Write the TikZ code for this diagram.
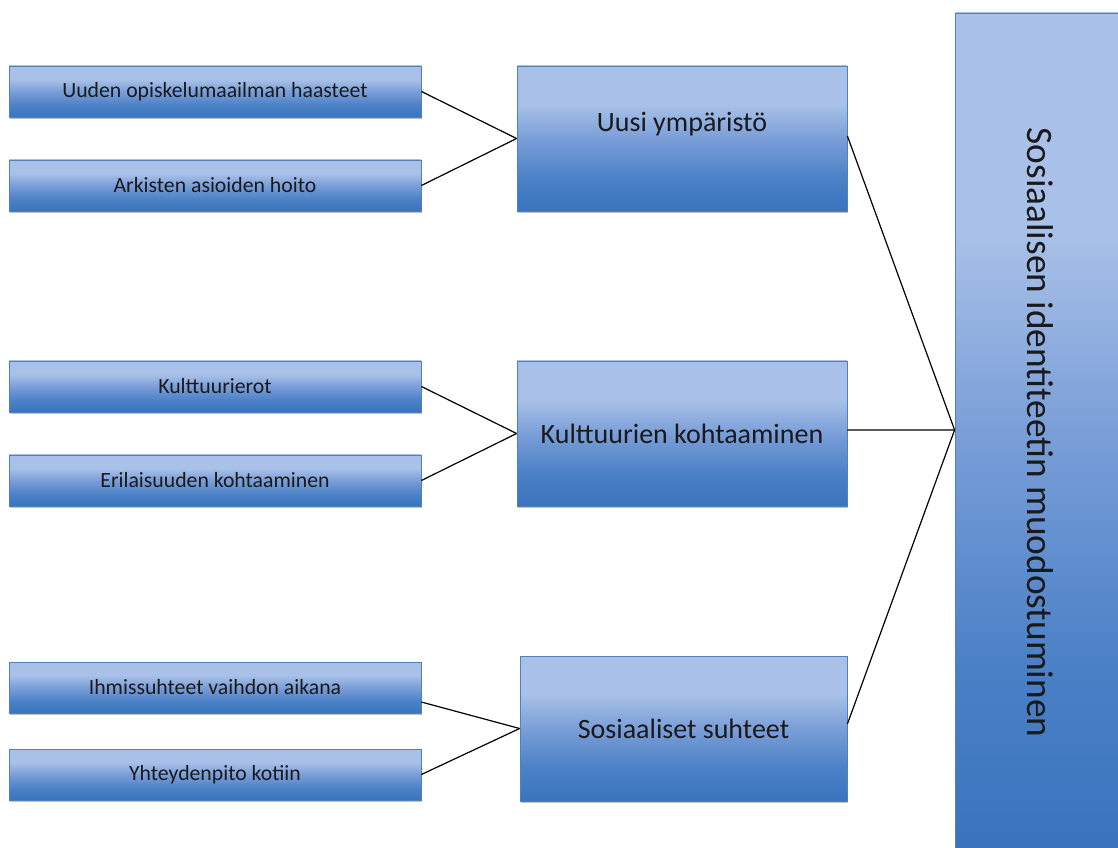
\documentclass[tikz,border=0pt]{standalone}
\usepackage{fontspec}
\setmainfont{Carlito}
\usetikzlibrary{shadows}
\definecolor{boxtop}{HTML}{A9C1E8}
\definecolor{boxmid}{HTML}{7A9ED8}
\definecolor{boxbot2}{HTML}{4A80C6}
\definecolor{boxbot}{HTML}{3A74BD}
\definecolor{boxline}{HTML}{4F81BD}
\definecolor{txt}{HTML}{1A1A1A}
\pgfdeclareverticalshading{officeblue}{100bp}{color(0bp)=(boxbot); color(25bp)=(boxbot); color(36bp)=(boxbot2); color(50bp)=(boxmid); color(62bp)=(boxtop); color(75bp)=(boxtop); color(100bp)=(boxtop)}
\tikzset{
  bluebox/.style={draw=boxline, line width=0.6pt, shading=officeblue, inner sep=0pt, text=txt,
    drop shadow={shadow xshift=1pt, shadow yshift=-1.5pt, fill=black, opacity=0.25}},
  smallbox/.style={bluebox, minimum width=309pt, minimum height=38.25pt, font=\fontsize{16.3}{19}\selectfont},
  midbox/.style={bluebox, minimum width=247.5pt, minimum height=108.75pt, font=\fontsize{21}{25}\selectfont},
  bigbox/.style={draw=boxline, line width=0.6pt, shading=officeblue, inner sep=0pt, text=txt,
    minimum width=127.5pt, minimum height=629.25pt},
  conn/.style={draw=black, line width=0.9pt}
}
\begin{document}
\begin{tikzpicture}[x=0.75pt,y=-0.75pt]
\useasboundingbox (0,0) rectangle (1118,848);
\begin{scope}
\clip (0,0) rectangle (1118,848);
\node[bigbox] (r) at (1040,432.5) {};
\node[rotate=-90, text=txt, font=\fontsize{28}{33}\selectfont] (rt) at (1040,432.5) {Sosiaalisen identiteetin muodostuminen};
\end{scope}

\node[smallbox] (s1) at (215,91.5) {Uuden opiskelumaailman haasteet};
\node[smallbox] (s2) at (215,185.5) {Arkisten asioiden hoito};
\node[smallbox] (s3) at (215,386.5) {Kulttuurierot};
\node[smallbox] (s4) at (215,480.5) {Erilaisuuden kohtaaminen};
\node[smallbox] (s5) at (215,687.5) {Ihmissuhteet vaihdon aikana};
\node[smallbox] (s6) at (215,774.5) {Yhteydenpito kotiin};

\node[midbox, text depth=25pt] (m1) at (682,138.5) {Uusi ympäristö};
\node[midbox] (m2) at (682,433.5) {Kulttuurien kohtaaminen};
\node[midbox, minimum width=245.25pt] (m3) at (683.5,728.5) {Sosiaaliset suhteet};

\coordinate (hub) at ([yshift=1.9pt]r.west);

\draw[conn] (s1.east) -- (m1.west);
\draw[conn] (s2.east) -- (m1.west);
\draw[conn] (s3.east) -- (m2.west);
\draw[conn] (s4.east) -- (m2.west);
\draw[conn] ([yshift=-10.9pt]s5.east) -- (m3.west);
\draw[conn] (s6.east) -- (m3.west);
\draw[conn] ([yshift=1.9pt]m1.east) -- (hub);
\draw[conn] ([yshift=2.6pt]m2.east) -- (hub);
\draw[conn] ([yshift=3.4pt]m3.east) -- (hub);
\end{tikzpicture}
\end{document}
